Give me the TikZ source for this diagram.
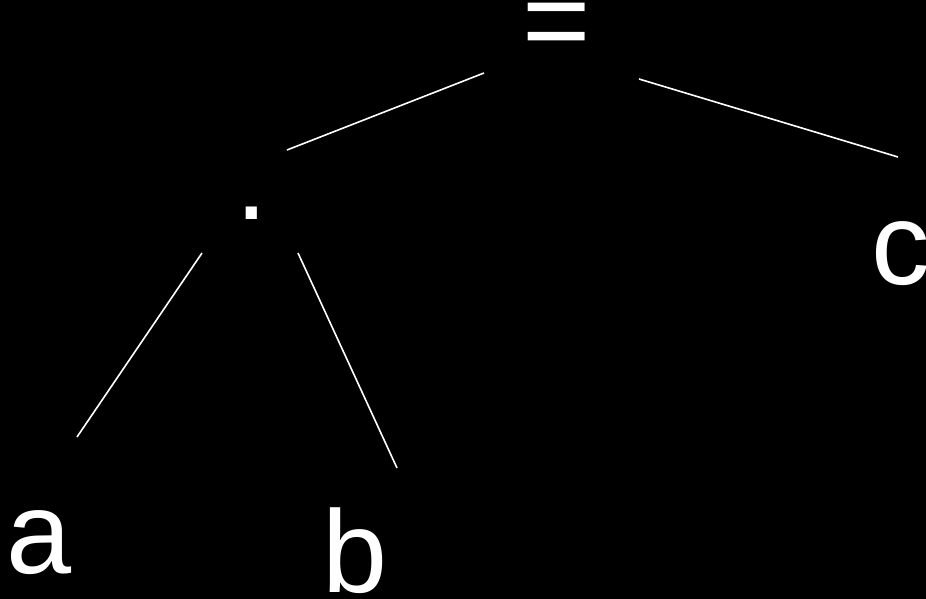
\documentclass[tikz,border=0pt]{standalone}
\usepackage{fontspec}
\setmainfont{Liberation Sans}
\usepackage{tikz}

\begin{document}
\begin{tikzpicture}[x=1pt,y=-1pt,
    sym/.style={text=white,inner sep=0pt,anchor=base,font=\fontsize{117}{120}\selectfont},
    edge/.style={draw=white,line width=1.6pt}]
                \fill[black] (0,0) rectangle (926,599);
                \clip (0,0) rectangle (926,599);
                \node[sym] (eq) at (557,61) {=};
                \node[sym] (dot) at (252,219) {.};
                \node[sym] (a) at (39,573) {a};
                \node[sym] (b) at (355,592) {b};
                \node[sym] (c) at (901,284) {c};
                \coordinate (eqL) at (484,73);
                \coordinate (eqR) at (639,79);
                \coordinate (dotT) at (287,150);
                \coordinate (cT) at (898,157);
                \coordinate (dotL) at (202,253);
                \coordinate (dotR) at (298,253);
                \coordinate (aT) at (77,437);
                \coordinate (bT) at (397,468);
                \draw[edge] (eqL) -- (dotT);
                \draw[edge] (eqR) -- (cT);
                \draw[edge] (dotL) -- (aT);
                \draw[edge] (dotR) -- (bT);
            \end{tikzpicture}
\end{document}
